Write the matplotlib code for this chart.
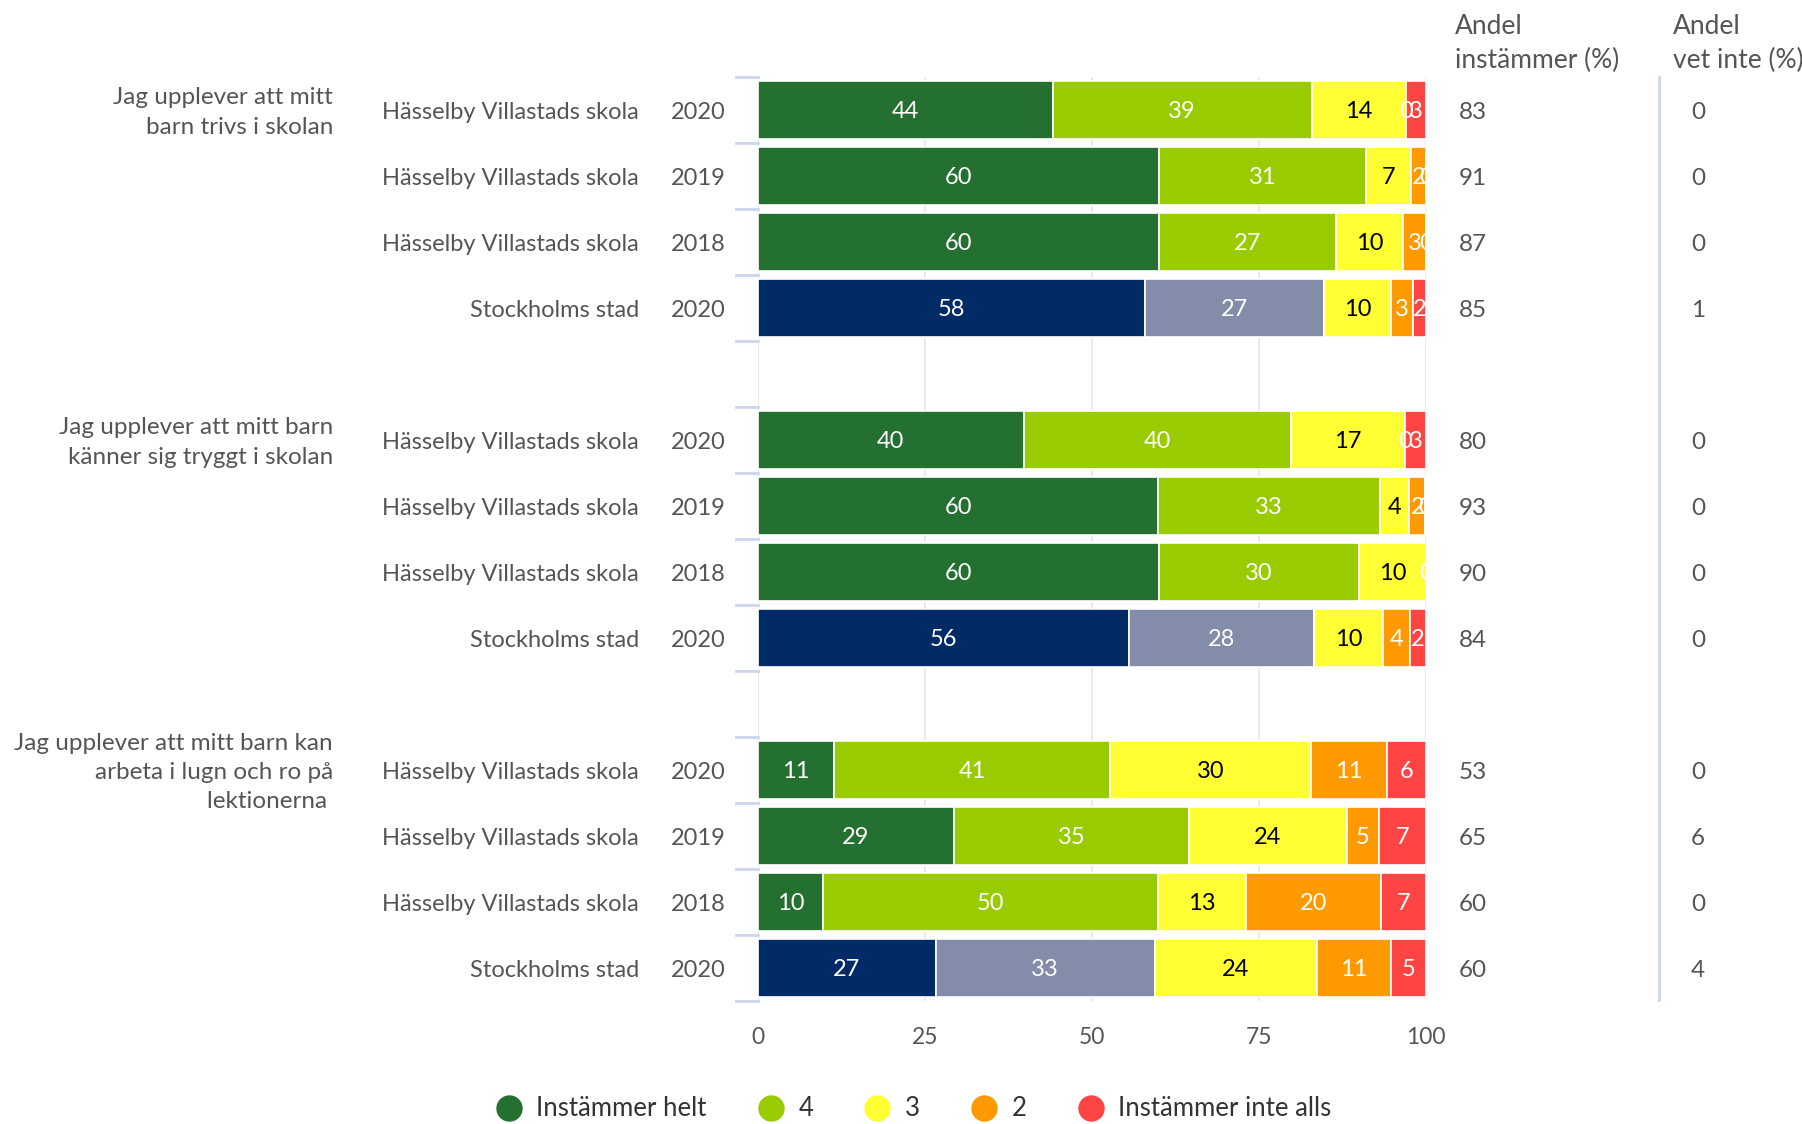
import numpy as np
import matplotlib.pyplot as plt
from matplotlib.lines import Line2D
from matplotlib.transforms import blended_transform_factory, offset_copy

plt.rcParams['font.family'] = ['Lato', 'DejaVu Sans']

W, H = 1802, 1124

questions = [
    "Jag upplever att mitt\nbarn trivs i skolan",
    "Jag upplever att mitt barn\nkänner sig tryggt i skolan",
    "Jag upplever att mitt barn kan\narbeta i lugn och ro på\nlektionerna ",
]
units = ["Hässelby Villastads skola", "Hässelby Villastads skola",
         "Hässelby Villastads skola", "Stockholms stad"] * 3
years = ["2020", "2019", "2018", "2020"] * 3

series_names = ["Instämmer helt", "4", "3", "2", "Instämmer inte alls"]
# shares in percent
helt = [44.1, 60.0, 60.0, 58.0, 39.8, 59.9, 60.0, 55.6, 11.4, 29.3, 9.8, 26.6]
fyra = [38.8, 31.0, 26.6, 26.7, 40.0, 33.2, 30.0, 27.7, 41.3, 35.2, 50.1, 32.8]
tre = [14.1, 6.7, 10.0, 10.1, 17.1, 4.4, 10.0, 10.3, 30.1, 23.6, 13.2, 24.3]
tva = [0.0, 2.3, 3.4, 3.3, 0.0, 2.4, 0.0, 4.0, 11.4, 4.8, 20.2, 11.0]
inte = [3.0, 0.0, 0.0, 1.9, 3.1, 0.0, 0.0, 2.4, 5.8, 7.1, 6.7, 5.3]
andel_instammer = [83, 91, 87, 85, 80, 93, 90, 84, 53, 65, 60, 60]
andel_vet_inte = [0, 0, 0, 1, 0, 0, 0, 0, 0, 6, 0, 4]

colors = ["#237030", "#99cc00", "#ffff33", "#ff9900", "#ff4444"]
stad_colors = ["#002b66", "#838ca8"]
label_colors = ["white", "white", "black", "white", "white"]
txt = "#555555"

# 12 rows in 3 groups, one empty slot between groups
ypos = [0, 1, 2, 3, 5, 6, 7, 8, 10, 11, 12, 13]

fig = plt.figure(figsize=(W / 100, H / 100), dpi=100)
ax = fig.add_axes([758 / W, 1 - 1001 / H, 668 / W, 924 / H])

# nudge text a touch down so it sits on the bar middle like the original
bar_tr = offset_copy(ax.transData, fig=fig, y=-1.2, units="points")

data = [helt, fyra, tre, tva, inte]
left = np.zeros(len(ypos))
for k, vals in enumerate(data):
    vals = np.array(vals, dtype=float)
    cols = []
    for i, u in enumerate(units):
        if u == "Stockholms stad" and k < 2:
            cols.append(stad_colors[k])
        else:
            cols.append(colors[k])
    ax.barh(ypos, vals, left=left, height=0.87, color=cols,
            edgecolor="white", linewidth=1.2, zorder=3)
    for i, v in enumerate(vals):
        ax.text(left[i] + v / 2, ypos[i], f"{v:.0f}", ha="center",
                va="center", fontsize=17, color=label_colors[k], zorder=4,
                transform=bar_tr)
    left += vals

ax.set_xlim(0, 100)
ax.set_ylim(13.5, -0.5)
ax.set_xticks([0, 25, 50, 75, 100])
ax.tick_params(axis="x", length=0, pad=19, labelsize=16.5, labelcolor=txt)
ax.set_yticks([])
ax.grid(axis="x", color="#e6e6e6", linewidth=1.2, zorder=0)
for s in ax.spines.values():
    s.set_visible(False)

# category ticks on the left
tr_ax = blended_transform_factory(ax.transAxes, ax.transData)
for g in range(3):
    y0 = g * 5
    for b in range(5):
        ax.plot([-22 / 668, 0], [y0 - 0.5 + b] * 2, color="#ccd6eb",
                linewidth=2, transform=tr_ax, clip_on=False)

tr = offset_copy(blended_transform_factory(fig.transFigure, ax.transData),
                 fig=fig, y=-1.8, units="points")
for i, y in enumerate(ypos):
    ax.text(639 / W, y, units[i], transform=tr, ha="right", va="center",
            fontsize=17, color=txt)
    ax.text(726 / W, y, years[i], transform=tr, ha="right", va="center",
            fontsize=17, color=txt)
    ax.text(1459 / W, y, str(andel_instammer[i]), transform=tr, ha="left",
            va="center", fontsize=17.5, color=txt)
    ax.text(1698 / W, y, str(andel_vet_inte[i]), transform=tr, ha="center",
            va="center", fontsize=17.5, color=txt)

for g, q in enumerate(questions):
    ax.text(333 / W, g * 5, q, transform=tr, ha="right", va="center",
            fontsize=17.5, color=txt, linespacing=1.48)

fig.text(1455 / W, 1 - 14 / H, "Andel\ninstämmer (%)", ha="left", va="top",
         fontsize=19, color=txt, linespacing=1.45)
fig.text(1673 / W, 1 - 14 / H, "Andel\nvet inte (%)", ha="left", va="top",
         fontsize=19, color=txt, linespacing=1.45)

# separator for the last column
fig.add_artist(Line2D([1659 / W, 1659 / W], [1 - 77 / H, 1 - 1000 / H],
                      color="#ccd6eb", linewidth=2))

handles = [Line2D([], [], marker="o", linestyle="none", markersize=18,
                  markerfacecolor=c, markeredgecolor=c) for c in colors]
fig.legend(handles, series_names, loc="center", ncol=5, frameon=False,
           bbox_to_anchor=(0.507, 1 - 1109 / H), fontsize=18.5,
           labelcolor="#333333", handlelength=1.0, handletextpad=0.57,
           columnspacing=2.0)

fig.savefig("out.png", dpi=100)
